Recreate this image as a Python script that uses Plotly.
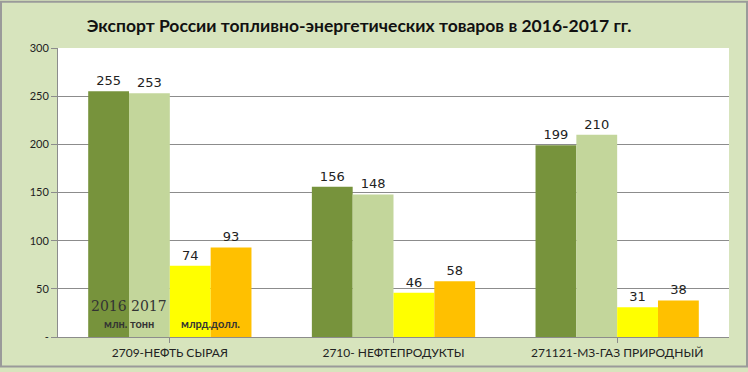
import plotly.graph_objects as go

categories = ["2709-НЕФТЬ СЫРАЯ", "2710- НЕФТЕПРОДУКТЫ", "271121-МЗ-ГАЗ ПРИРОДНЫЙ"]
tonn_2016 = [255, 156, 199]
tonn_2017 = [253, 148, 210]
usd_2016 = [74, 46, 31]
usd_2017 = [93, 58, 38]
ytick_vals = [0, 50, 100, 150, 200, 250, 300]
ytick_text = ["-", "50", "100", "150", "200", "250", "300"]

title = "Экспорт России топливно-энергетических товаров в 2016-2017 гг."

xs = list(range(len(categories)))
series = [
    ("2016 млн. тонн", tonn_2016, "#77933c"),
    ("2017 млн. тонн", tonn_2017, "#c3d69b"),
    ("2016 млрд.долл.", usd_2016, "#ffff00"),
    ("2017 млрд.долл.", usd_2017, "#ffc000"),
]

fig = go.Figure()
for name, vals, col in series:
    fig.add_trace(go.Bar(
        x=xs, y=vals, name=name, marker=dict(color=col, line=dict(width=0)),
        text=vals, texttemplate="%{y}", textposition="outside",
        textfont=dict(family="DejaVu Sans, sans-serif", size=13, color="#222222"),
        cliponaxis=False,
    ))

bargap = 0.27
w = (1 - bargap) / 4
offs = [-1.5 * w, -0.5 * w, 0.5 * w, 1.5 * w]

ann = [
    dict(x=offs[0], y=0, text="2016", yshift=31, font=dict(family="DejaVu Serif, serif", size=14, color="#333333")),
    dict(x=offs[1], y=0, text="2017", yshift=31, font=dict(family="DejaVu Serif, serif", size=14, color="#333333")),
    dict(x=(offs[0] + offs[1]) / 2, y=0, text="<b>млн. тонн</b>", yshift=14, font=dict(family="Lato, sans-serif", size=11, color="#333333")),
    dict(x=(offs[2] + offs[3]) / 2, y=0, text="<b>млрд.долл.</b>", yshift=14, font=dict(family="Lato, sans-serif", size=11, color="#333333")),
]
for a in ann:
    a.update(xref="x", yref="y", showarrow=False, yanchor="middle")

fig.update_layout(
    width=748, height=372,
    margin=dict(l=58, r=19, t=48, b=31),
    paper_bgcolor="#d7e4bd",
    plot_bgcolor="#ffffff",
    barmode="group", bargap=bargap, bargroupgap=0,
    showlegend=False,
    title=dict(text="<b>" + title + "</b>", x=0.48, xanchor="center", y=0.93, yanchor="middle",
               font=dict(family="Lato, sans-serif", size=17.5, color="#111111")),
    font=dict(family="Lato, Open Sans, sans-serif", size=11, color="#222222"),
    annotations=ann,
    shapes=[dict(type="rect", xref="paper", yref="paper", x0=-57/671, x1=1+18/671, y0=-30/293, y1=1+47/293,
                 line=dict(color="#9a9a9a", width=2), fillcolor="rgba(0,0,0,0)", layer="above")],
)
fig.update_xaxes(
    tickvals=xs, ticktext=categories, range=[-0.5, 2.5],
    showline=True, linecolor="#8c8c8c", linewidth=1,
    ticks="outside", tickson="boundaries", ticklen=5, tickcolor="#8c8c8c",
    showgrid=False, tickfont=dict(size=12, color="#222222"),
)
fig.update_yaxes(
    range=[0, 300], tickvals=ytick_vals, ticktext=ytick_text,
    showgrid=True, gridcolor="#8c8c8c", gridwidth=1,
    showline=True, linecolor="#8c8c8c", linewidth=1,
    ticks="outside", ticklen=6, tickcolor="#8c8c8c",
    tickfont=dict(size=11, color="#222222"), zeroline=False,
)

fig.write_html("out.html", config={"displayModeBar": False})

with open("out.html", encoding="utf-8") as f:
    html = f.read()
html = html.replace("<head>", "<head><style>html,body{margin:0;padding:0;overflow:hidden;}</style>", 1)
with open("out.html", "w", encoding="utf-8") as f:
    f.write(html)
